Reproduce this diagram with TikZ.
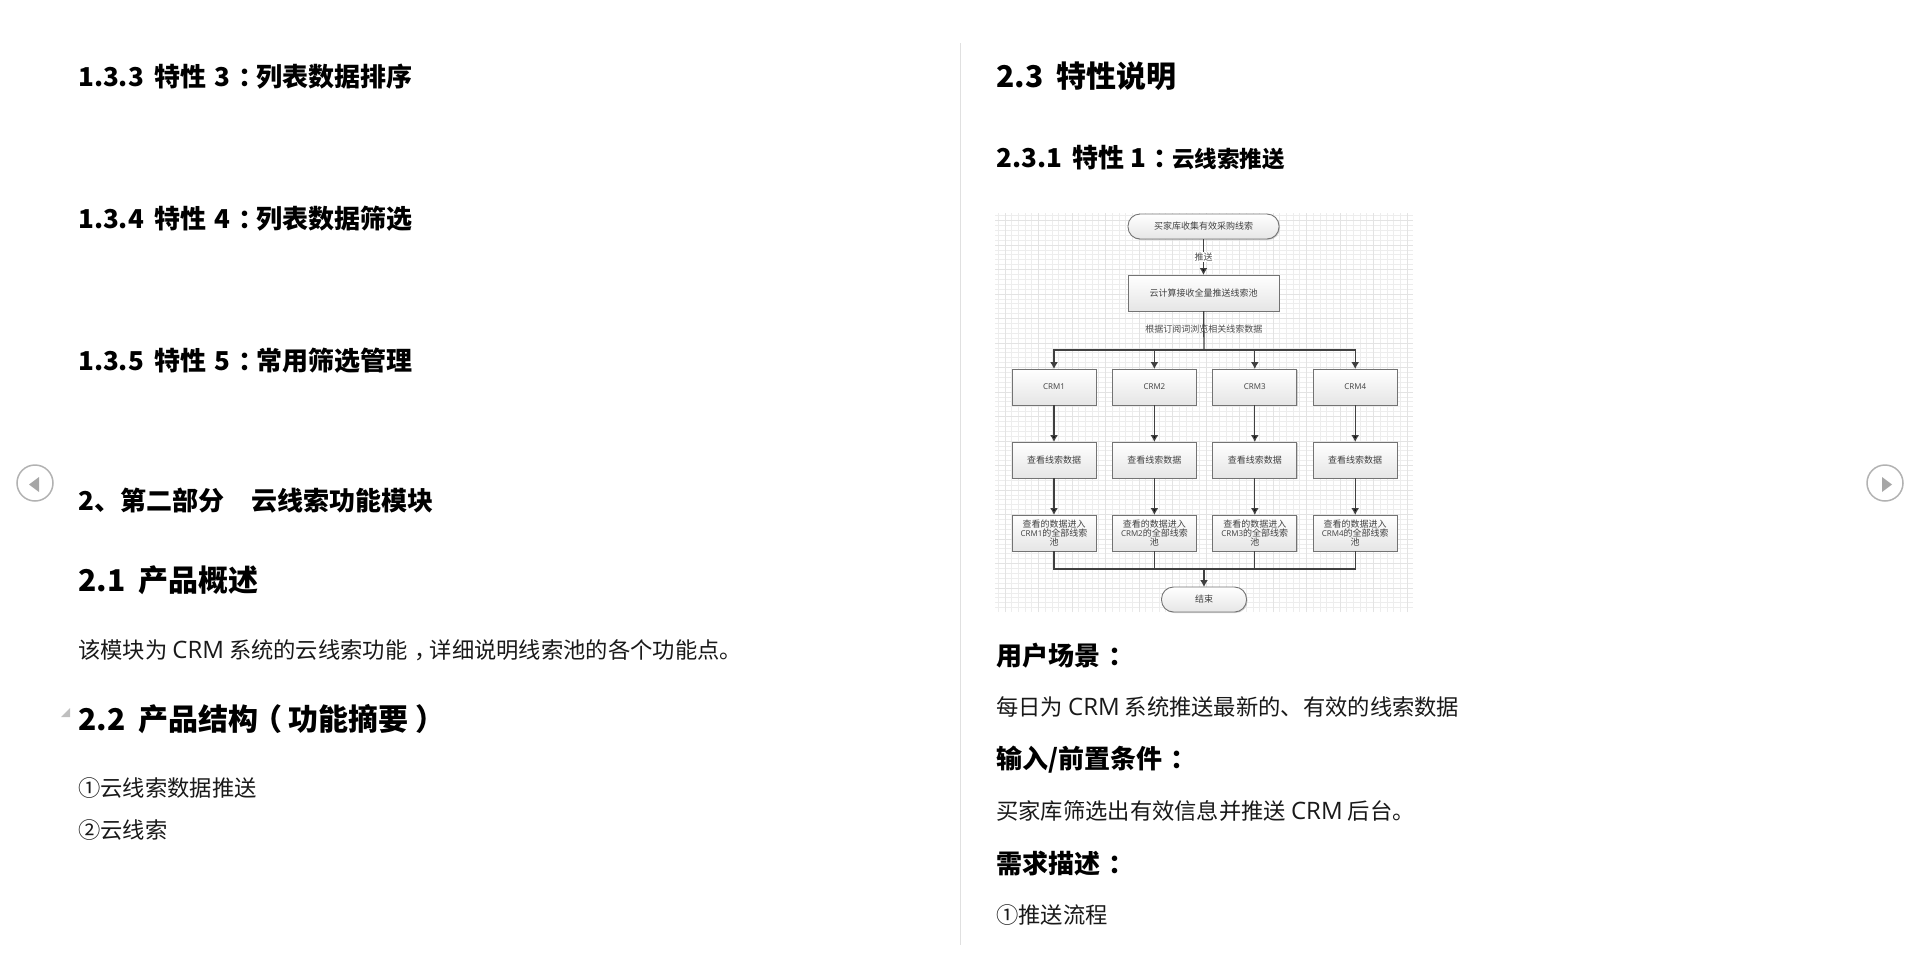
\documentclass[tikz,border=0pt]{standalone}
\usepackage{fontspec}
\setmainfont{Noto Sans CJK SC}
\newfontfamily\latinf{Open Sans}
\newcommand{\crmword}{{\latinf\fontsize{24}{26}\selectfont CRM}}
\newcommand{\crmtag}[1]{{\latinf\fontsize{8}{9.4}\selectfont CRM#1}}
\newcommand{\nudge}[2]{\hspace{#1}#2\hspace{-#1}}
\newcommand{\wcolon}{\nudge{0.3em}{：}}
\newcommand{\wcomma}{\nudge{0.3em}{，}}
\setlength{\lineskiplimit}{-5pt}
\usetikzlibrary{positioning,arrows.meta,shadows}

\tikzset{
    sectitle/.style = {anchor=west, inner sep=0pt, text=black, font=\fontsize{30}{32}\selectfont\bfseries},
    subtitle/.style = {anchor=west, inner sep=0pt, text=black, font=\fontsize{26}{30}\selectfont\bfseries},
    bodytext/.style = {anchor=west, inner sep=0pt, text=black!90, font=\fontsize{22.3}{26}\selectfont},
    flowbox/.style = {draw=black!55, line width=0.9pt, top color=white, bottom color=black!10,
        minimum width=84pt, minimum height=36pt, inner sep=0pt, outer sep=0pt, align=center, text=black!75,
        font=\fontsize{9}{9.4}\selectfont, drop shadow={shadow xshift=1pt, shadow yshift=-1pt, fill=black!35}},
    flowend/.style = {flowbox, rounded corners=12pt, minimum height=25pt},
    flowline/.style = {draw=black!75, line width=1.3pt},
    navbtn/.style = {draw=black!30, circle, line width=1.5pt, minimum size=36pt, inner sep=0pt},
}

\begin{document}
\begin{tikzpicture}[x=1pt, y=-1pt, node distance={36pt}, >={Latex[length=7pt,width=8pt]}]
    \useasboundingbox (0,0) rectangle (1920,967);

    % left column
    \node[subtitle] (h133) at (78,77) {1.3.3\hspace{0.4em}特性\hspace{0.32em}3\wcolon 列表数据排序};
    \node[subtitle] (h134) at (78,218.5) {1.3.4\hspace{0.4em}特性\hspace{0.32em}4\wcolon 列表数据筛选};
    \node[subtitle] (h135) at (78,361) {1.3.5\hspace{0.4em}特性\hspace{0.32em}5\wcolon 常用筛选管理};
    \node[subtitle] (part2) at (78,501) {2、第二部分\hspace{1.05em}云线索功能模块};
    \node[sectitle] (h21) at (78,580) {2.1\hspace{0.45em}产品概述};
    \node[bodytext] (intro) at (78,650) {该模块为 \crmword{} 系统的云线索功能\wcomma 详细说明线索池的各个功能点。};
    \node[sectitle] (h22) at (78,719) {2.2\hspace{0.45em}产品结构\nudge{-0.22em}{（}功能摘要\nudge{0.22em}{）}};
    \node[bodytext] (item1) at (78,788) {①云线索数据推送};
    \node[bodytext] (item2) at (78,830) {②云线索};
    \fill[black!25] (70,708) -- (70,717) -- (61,717) -- cycle;

    % nav buttons
    \node[navbtn] (prev) at (35,483) {};
    \node[navbtn] (next) at (1885,483) {};
    \fill[black!35] (29,484.5) -- (39,477) -- (39,492) -- cycle;
    \fill[black!35] (1892,484.5) -- (1882,477) -- (1882,492) -- cycle;

    % divider
    \draw[black!12, line width=1pt] (960.5,43) -- (960.5,945);

    % right column
    \node[sectitle] (h23) at (996,76) {2.3\hspace{0.45em}特性说明};
    \node[subtitle] (h231) at (996,158) {2.3.1\hspace{0.4em}特性 1\wcolon {\fontsize{22.5}{26}\selectfont 云线索推送}};
    \node[subtitle] (scene) at (996,656) {用户场景\wcolon};
    \node[bodytext] (scenetxt) at (996,707) {每日为 \crmword{} 系统推送最新的、有效的线索数据};
    \node[subtitle] (input) at (996,760) {输入/前置条件\wcolon};
    \node[bodytext] (inputtxt) at (996,811) {买家库筛选出有效信息并推送 \crmword{} 后台。};
    \node[subtitle] (need) at (996,864) {需求描述\wcolon};
    \node[bodytext] (needtxt) at (996,915) {①推送流程};

    % flowchart background
    \draw[black!7, line width=0.7pt, xstep=6.7pt, ystep=4.9pt] (995,213) grid (1413,612);
    \draw[black!11, line width=1pt, xstep=33.5pt, ystep=24.5pt] (995,213) grid (1413,612);

    \node[flowend, minimum width=151pt] (start) at (1203.5,226.5) {买家库收集有效采购线索};
    \node[flowbox, minimum width=151pt] (pool) [below=of start] {云计算接收全量推送线索池};

    \node[flowbox] (crm1) at (1054,387) {\crmtag{1}};
    \node[flowbox] (crm2) [right=16.4pt of crm1] {\crmtag{2}};
    \node[flowbox] (crm3) [right=16.4pt of crm2] {\crmtag{3}};
    \node[flowbox] (crm4) [right=16.4pt of crm3] {\crmtag{4}};

    \node[flowbox] (view1) [below=37pt of crm1] {查看线索数据};
    \node[flowbox] (view2) [below=37pt of crm2] {查看线索数据};
    \node[flowbox] (view3) [below=37pt of crm3] {查看线索数据};
    \node[flowbox] (view4) [below=37pt of crm4] {查看线索数据};

    \node[flowbox] (enter1) [below=37pt of view1] {查看的数据进入\\\crmtag{1}的全部线索\\池};
    \node[flowbox] (enter2) [below=37pt of view2] {查看的数据进入\\\crmtag{2}的全部线索\\池};
    \node[flowbox] (enter3) [below=37pt of view3] {查看的数据进入\\\crmtag{3}的全部线索\\池};
    \node[flowbox] (enter4) [below=37pt of view4] {查看的数据进入\\\crmtag{4}的全部线索\\池};

    \node[flowend, minimum width=85pt] (stop) at (1204,599.5) {结束};

    \coordinate (busup) at (1204,350);
    \coordinate (buslow) at (1204,569);

    \path[flowline, ->] (start) edge node[fill=white, inner sep=1pt, text=black!70, font=\fontsize{9}{11}\selectfont] {推送} (pool);
    \draw[flowline] (pool) -- node[pos=0.46, inner sep=0pt, text=black!70, font=\fontsize{9}{11}\selectfont] (subslabel) {根据订阅词浏览相关线索数据} (busup);

    \draw[flowline, ->] (busup) -| (crm1);
    \draw[flowline, ->] (busup) -| (crm2);
    \draw[flowline, ->] (busup) -| (crm3);
    \draw[flowline, ->] (busup) -| (crm4);

    \path[flowline, ->] (crm1) edge (view1);
    \path[flowline, ->] (crm2) edge (view2);
    \path[flowline, ->] (crm3) edge (view3);
    \path[flowline, ->] (crm4) edge (view4);

    \path[flowline, ->] (view1) edge (enter1);
    \path[flowline, ->] (view2) edge (enter2);
    \path[flowline, ->] (view3) edge (enter3);
    \path[flowline, ->] (view4) edge (enter4);

    \draw[flowline] (enter1) |- (buslow);
    \draw[flowline] (enter2) |- (buslow);
    \draw[flowline] (enter3) |- (buslow);
    \draw[flowline] (enter4) |- (buslow);
    \draw[flowline, ->] (buslow) -- (stop);

\end{tikzpicture}
\end{document}
